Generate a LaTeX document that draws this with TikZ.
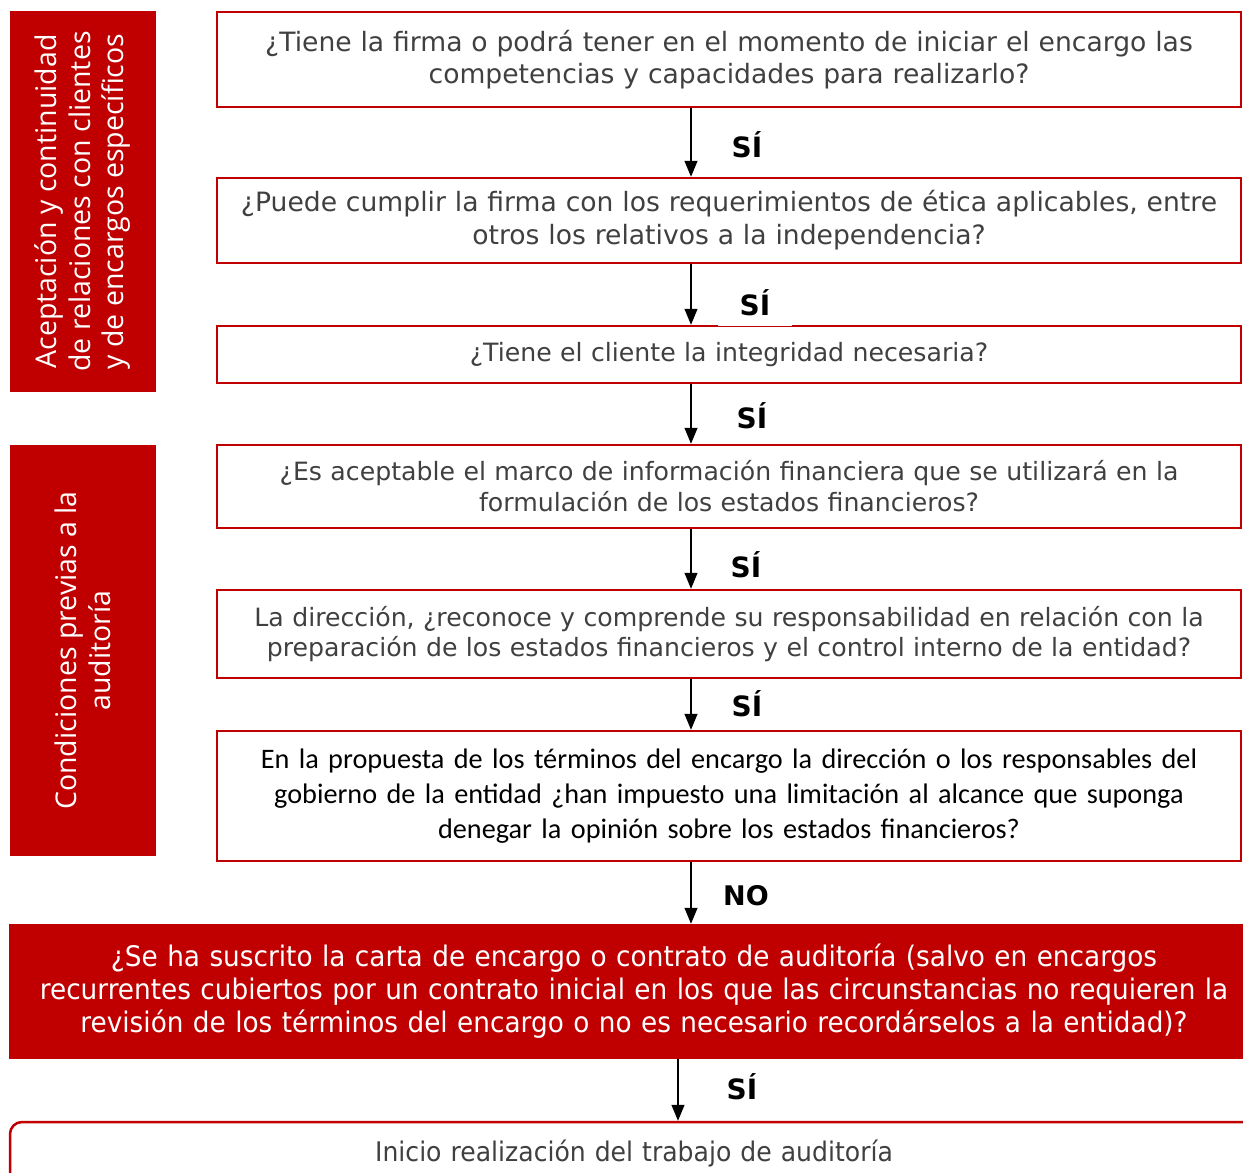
\documentclass[tikz,border=0pt]{standalone}
\usepackage{fontspec}
\setmainfont{DejaVu Sans}
\newfontfamily\verdana{DejaVu Sans}
\newfontfamily\tahoma[FakeStretch=0.93]{DejaVu Sans}
\newfontfamily\calibri{Carlito}
\newfontfamily\segoe{Open Sans}
\usepackage{tikz}
\usetikzlibrary{arrows.meta}
\usepackage{xcolor}
\definecolor{darkred}{HTML}{C00000}
\definecolor{txtgray}{HTML}{404040}

\tikzset{
  qbox/.style={draw=darkred, line width=2.5pt, fill=white, minimum width=1024pt,
    text width=1010pt, align=center, inner sep=0pt, text=txtgray,
    font=\verdana\fontsize{25.2}{31}\selectfont},
  sidebar/.style={fill=darkred, rotate=90, text=white, align=center, inner sep=0pt,
    font=\segoe\fontsize{28.5}{33.5}\selectfont},
  answer/.style={font=\verdana\bfseries\fontsize{28}{32}\selectfont, text=black, inner sep=2pt},
  flow/.style={->, line width=1.3pt}
}

\begin{document}
\begin{tikzpicture}[x=1pt,y=-1pt,>={Triangle[length=16pt,width=13pt]}]
\useasboundingbox (0,0) rectangle (1243,1173);
\clip (0,0) rectangle (1243,1173);
\fill[white] (0,0) rectangle (1243,1173);
%%%SIDEBARS
\node[sidebar, minimum width=381pt, minimum height=146pt] (side1) at (83,201.5)
  {Aceptación y continuidad\\de relaciones con clientes\\y de encargos específicos};
\node[sidebar, minimum width=411pt, minimum height=146pt] (side2) at (83,650.5)
  {Condiciones previas a la\\auditoría};
%%%QUESTIONS
\node[qbox, minimum height=95pt, font=\verdana\fontsize{26.6}{32}\selectfont] (q1) at (729,59.5)
  {¿Tiene la firma o podrá tener en el momento de iniciar el encargo las\\competencias y capacidades para realizarlo?};
\node[qbox, minimum height=85pt, font=\verdana\fontsize{26.6}{33}\selectfont] (q2) at (729,220.5)
  {¿Puede cumplir la firma con los requerimientos de ética aplicables, entre\\otros los relativos a la independencia?};
\node[qbox, minimum height=57pt] (q3) at (729,354.5)
  {¿Tiene el cliente la integridad necesaria?};
\node[qbox, minimum height=83pt] (q4) at (729,486.5)
  {¿Es aceptable el marco de información financiera que se utilizará en la\\formulación de los estados financieros?};
\node[qbox, minimum height=88pt, font=\verdana\fontsize{25.2}{30}\selectfont] (q5) at (729,634)
  {La dirección, ¿reconoce y comprende su responsabilidad en relación con la\\preparación de los estados financieros y el control interno de la entidad?};
\node[qbox, minimum height=130pt, text=black, font=\calibri\fontsize{28.25}{35}\selectfont] (q6) at (729,796)
  {En la propuesta de los términos del encargo la dirección o los responsables del\\gobierno de la entidad ¿han impuesto una limitación al alcance que suponga\\denegar la opinión sobre los estados financieros?};
\node[qbox, fill=darkred, text=white, minimum width=1248pt, text width=1236pt, minimum height=133pt,
  font=\tahoma\fontsize{28.3}{33}\selectfont] (q7) at (634,991.5)
  {¿Se ha suscrito la carta de encargo o contrato de auditoría (salvo en encargos\\recurrentes cubiertos por un contrato inicial en los que las circunstancias no requieren la\\revisión de los términos del encargo o no es necesario recordárselos a la entidad)?};
\node[qbox, rounded corners=12pt, minimum width=1248pt, text width=1230pt, minimum height=62pt,
  font=\tahoma\fontsize{27}{33}\selectfont] (start) at (634,1153)
  {Inicio realización del trabajo de auditoría};
%%%ARROWS
\coordinate (ax) at (691,0);
\coordinate (bx) at (678,0);
\draw[flow] (q1.south -| ax) -- (q2.north -| ax);
\draw[flow] (q2.south -| ax) -- (q3.north -| ax);
\draw[flow] (q3.south -| ax) -- (q4.north -| ax);
\draw[flow] (q4.south -| ax) -- (q5.north -| ax);
\draw[flow] (q5.south -| ax) -- (q6.north -| ax);
\draw[flow] (q6.south -| ax) -- (q7.north -| ax);
\draw[flow] (q7.south -| bx) -- (start.north -| bx);
%%%ANSWERS
\node[answer] (a1) at (747,145) {SÍ};
\node[answer, fill=white, minimum width=74pt, minimum height=46pt] (a2) at (755,303) {SÍ};
\node[answer] (a3) at (752,416) {SÍ};
\node[answer] (a4) at (746,565) {SÍ};
\node[answer] (a5) at (747,704) {SÍ};
\node[answer, font=\verdana\bfseries\fontsize{27}{32}\selectfont] (a6) at (746,896) {NO};
\node[answer] (a7) at (742,1087) {SÍ};
\end{tikzpicture}
\end{document}
